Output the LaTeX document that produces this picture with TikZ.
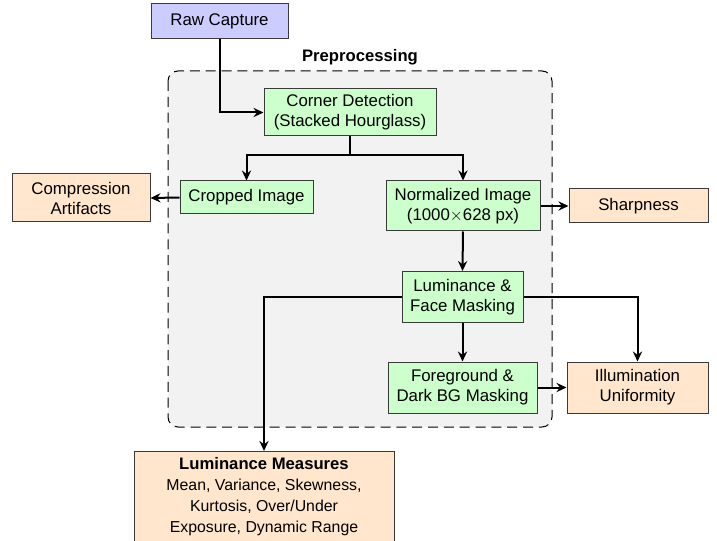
\documentclass[tikz,border=0pt]{standalone}
\usepackage{fontspec}
\setmainfont{Liberation Sans}
\usetikzlibrary{arrows.meta}
\definecolor{rawc}{HTML}{CCCCFF}
\definecolor{procc}{HTML}{CCFFCC}
\definecolor{outc}{HTML}{FFE6CC}
\definecolor{grpc}{HTML}{F2F2F2}
\definecolor{bordc}{HTML}{3A3A3A}
\begin{document}
\begin{tikzpicture}[x=0.6pt,y=-0.6pt,
  box/.style={draw=bordc,line width=0.6pt,align=center,inner sep=0pt,font=\fontsize{10.1}{12}\selectfont},
  rawbox/.style={box,fill=rawc},
  procbox/.style={box,fill=procc},
  outbox/.style={box,fill=outc},
  conn/.style={line width=1.2pt,-{Stealth[length=6pt,width=5.5pt,inset=2pt]}},
  connl/.style={line width=1.2pt}]
\useasboundingbox (0,0) rectangle (717,541);
\clip (0,0) rectangle (717,541);
% group
\draw[fill=grpc,dash pattern=on 6pt off 3.5pt,line width=0.6pt,rounded corners=6pt] (168,71) rectangle (552,427);
\node[font=\bfseries\fontsize{10}{12}\selectfont] (grplabel) at (360,57) {Preprocessing};
% nodes
\node[rawbox,minimum width=137*0.6pt,minimum height=35*0.6pt] (raw) at (219.5,21.5) {Raw Capture};
\node[procbox,minimum width=172*0.6pt,minimum height=47*0.6pt] (corner) at (350,112.5) {Corner Detection\\(Stacked Hourglass)};
\node[procbox,minimum width=133*0.6pt,minimum height=33*0.6pt] (crop) at (246.5,197.5) {Cropped Image};
\node[outbox,minimum width=138*0.6pt,minimum height=48*0.6pt] (comp) at (81,198) {Compression\\Artifacts};
\node[procbox,minimum width=154*0.6pt,minimum height=50*0.6pt] (norm) at (463,206) {Normalized Image\\(1000$\times$628 px)};
\node[outbox,minimum width=139*0.6pt,minimum height=34*0.6pt] (sharp) at (638.5,206) {Sharpness};
\node[procbox,minimum width=121*0.6pt,minimum height=51*0.6pt] (lum) at (462.5,297) {Luminance \&\\Face Masking};
\node[procbox,minimum width=149*0.6pt,minimum height=51*0.6pt] (fg) at (462.5,387.5) {Foreground \&\\Dark BG Masking};
\node[outbox,minimum width=141*0.6pt,minimum height=51*0.6pt] (illum) at (637.5,387.5) {Illumination\\Uniformity};
\node[outbox,anchor=north,minimum width=260*0.6pt,minimum height=100*0.6pt,align=center,font=\fontsize{9.5}{12.6}\selectfont,inner sep=0pt] (meas) at (264,451)
  {\rule{0pt}{11pt}{\bfseries\fontsize{10}{12}\selectfont Luminance Measures}\\Mean, Variance, Skewness,\\Kurtosis, Over/Under\\Exposure, Dynamic Range\\[6pt]};
% connectors
\coordinate (br) at (350,155);
\draw[conn] (raw.south) |- (corner.west);
\draw[connl] (corner.south) -- (br);
\draw[conn] (br) -| (crop.north);
\draw[conn] (br) -| (norm.north);
\draw[conn] (crop.west) -- (comp.east);
\draw[conn] (norm.east) -- (sharp.west);
\draw[conn] (norm.south) -- (lum.north);
\draw[conn] (lum.south) -- (fg.north);
\draw[conn] (fg.east) -- (illum.west);
\draw[conn] (lum.east) -| (illum.north);
\draw[conn] (lum.west) -| (meas.north);
\end{tikzpicture}
\end{document}
